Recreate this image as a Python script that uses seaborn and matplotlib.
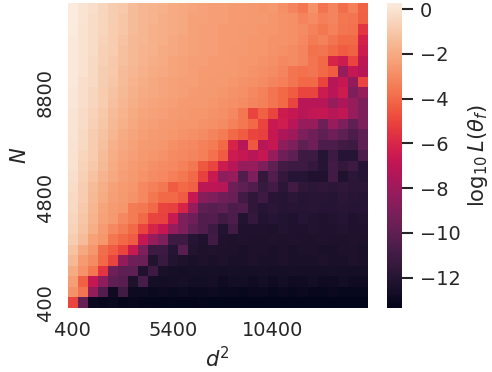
import matplotlib
matplotlib.use("Agg")
import matplotlib.pyplot as plt
import seaborn as sns
import numpy as np
import pandas as pd

# d^2 values (columns) and N values (rows, bottom to top)
d2_vals = list(range(400, 15000, 500))
n_vals = [400] + list(range(1200, 12001, 400))

# log10 L(theta_f), one list per N (N ascending)
loss = [
    [-5.0, -9.8, -13.0, -13.1, -13.0, -13.2, -13.1, -13.2, -13.2, -13.3, -13.2, -13.3, -13.3, -13.2, -13.3, -13.3, -13.3, -13.3, -13.3, -13.3, -13.3, -13.3, -13.3, -13.3, -13.3, -13.3, -13.3, -13.3, -13.3, -13.35],
    [-2.8, -3.7, -8.3, -10.5, -12.8, -11.0, -12.9, -12.9, -13.0, -12.9, -13.0, -12.9, -13.0, -13.0, -12.9, -13.0, -13.0, -13.1, -13.0, -13.0, -13.1, -13.0, -13.1, -13.0, -13.1, -13.1, -13.0, -13.1, -13.1, -13.1],
    [-2.4, -4.3, -6.8, -8.5, -10.0, -10.2, -12.3, -10.8, -12.6, -12.7, -12.6, -12.5, -12.7, -12.7, -12.6, -12.8, -12.7, -12.7, -12.8, -12.7, -12.8, -12.7, -12.8, -12.8, -12.7, -12.8, -12.8, -12.7, -12.8, -12.8],
    [-2.0, -2.8, -3.6, -5.5, -9.5, -10.0, -10.0, -12.2, -11.2, -12.4, -12.5, -12.6, -12.5, -12.6, -12.5, -12.6, -12.5, -12.6, -12.6, -12.5, -12.6, -12.6, -12.5, -12.6, -12.6, -12.6, -12.5, -12.6, -12.6, -12.6],
    [-1.5, -2.5, -3.0, -4.0, -5.0, -8.4, -9.5, -9.6, -12.1, -11.3, -12.1, -12.3, -12.4, -12.3, -12.4, -12.3, -12.4, -12.4, -12.3, -12.4, -12.4, -12.3, -12.4, -12.4, -12.4, -12.3, -12.4, -12.4, -12.3, -12.4],
    [-1.2, -2.1, -2.7, -3.9, -4.4, -5.0, -6.6, -9.0, -11.2, -11.2, -12.0, -10.2, -12.1, -12.3, -12.2, -12.3, -12.3, -12.4, -12.3, -12.3, -12.4, -12.3, -12.4, -12.3, -12.3, -12.4, -12.4, -12.3, -12.3, -12.4],
    [-0.8, -1.4, -2.3, -2.7, -3.6, -4.0, -4.4, -6.7, -8.2, -9.0, -11.2, -11.2, -12.0, -12.2, -11.0, -12.2, -12.3, -12.2, -12.3, -12.3, -12.2, -12.3, -12.2, -12.3, -12.3, -12.2, -12.3, -12.3, -12.2, -12.3],
    [-0.6, -1.2, -1.9, -2.5, -3.1, -3.5, -4.0, -5.0, -6.1, -6.7, -8.2, -9.0, -10.0, -10.5, -11.2, -12.1, -11.0, -12.2, -12.2, -12.2, -12.3, -12.1, -12.2, -12.2, -12.1, -12.2, -12.2, -12.1, -12.2, -12.2],
    [-0.5, -1.1, -1.7, -2.3, -2.6, -3.1, -3.5, -4.0, -5.0, -5.1, -6.6, -9.0, -9.5, -10.5, -10.4, -11.0, -10.6, -12.1, -11.5, -12.1, -12.0, -12.1, -12.2, -12.0, -12.1, -12.2, -12.1, -12.0, -12.2, -12.1],
    [-0.4, -1.0, -1.6, -2.2, -2.5, -2.7, -3.5, -3.6, -4.0, -5.0, -5.2, -6.1, -8.2, -10.0, -10.2, -10.0, -10.6, -10.5, -11.6, -12.0, -11.8, -12.0, -11.9, -12.0, -11.9, -12.0, -12.0, -11.9, -12.0, -12.0],
    [-0.4, -0.9, -1.5, -2.0, -2.4, -2.6, -2.8, -3.1, -3.6, -4.0, -4.0, -4.4, -6.8, -8.7, -9.0, -9.5, -9.7, -11.0, -11.6, -11.2, -11.9, -12.0, -11.8, -12.0, -11.9, -11.9, -12.0, -11.8, -11.9, -12.0],
    [-0.3, -0.8, -1.4, -1.9, -2.3, -2.5, -2.7, -3.1, -3.4, -3.6, -4.4, -4.0, -4.3, -7.0, -7.0, -7.2, -9.5, -10.0, -10.5, -11.4, -11.0, -11.8, -11.0, -11.7, -11.8, -11.6, -11.8, -11.7, -11.8, -11.8],
    [-0.2, -0.7, -1.2, -1.7, -2.1, -2.4, -2.6, -2.8, -3.0, -3.1, -3.4, -3.6, -4.0, -5.2, -6.6, -8.5, -8.2, -10.5, -9.0, -11.5, -10.5, -11.5, -12.0, -12.0, -12.2, -12.2, -11.0, -12.2, -11.8, -12.0],
    [-0.1, -0.6, -1.0, -1.5, -2.0, -2.3, -2.5, -2.7, -2.9, -3.0, -3.1, -3.3, -3.6, -4.5, -5.0, -6.5, -7.2, -8.2, -8.2, -9.0, -10.0, -11.0, -11.2, -11.2, -11.5, -12.0, -11.0, -11.5, -11.2, -12.0],
    [-0.1, -0.5, -0.9, -1.4, -1.9, -2.2, -2.4, -2.6, -2.7, -2.8, -3.0, -3.1, -3.2, -3.4, -3.8, -4.4, -6.5, -6.7, -7.2, -6.7, -8.2, -9.5, -10.0, -11.2, -11.2, -12.0, -11.2, -12.0, -12.0, -10.6],
    [-0.1, -0.4, -0.9, -1.3, -1.8, -2.1, -2.3, -2.5, -2.6, -2.7, -2.9, -3.0, -3.1, -3.3, -3.5, -4.0, -6.1, -7.2, -4.5, -7.2, -6.7, -8.5, -9.0, -10.0, -9.5, -10.6, -10.6, -11.0, -11.2, -10.0],
    [0.0, -0.4, -0.8, -1.2, -1.6, -2.0, -2.2, -2.4, -2.5, -2.6, -2.7, -2.8, -2.9, -3.0, -3.2, -3.5, -4.0, -4.4, -5.0, -5.2, -6.7, -7.5, -8.0, -9.0, -9.5, -10.0, -9.5, -10.0, -10.6, -10.0],
    [0.0, -0.3, -0.7, -1.1, -1.5, -1.8, -2.1, -2.3, -2.4, -2.5, -2.6, -2.7, -2.7, -2.8, -2.9, -3.0, -3.3, -3.6, -4.0, -5.0, -6.6, -6.4, -7.2, -8.2, -8.2, -9.5, -8.2, -9.0, -10.0, -9.0],
    [0.0, -0.3, -0.6, -1.0, -1.4, -1.7, -2.0, -2.2, -2.3, -2.4, -2.5, -2.6, -2.7, -2.7, -2.8, -2.9, -3.1, -3.6, -5.0, -4.3, -5.0, -6.5, -6.7, -7.2, -6.9, -6.7, -7.2, -6.9, -8.2, -9.0],
    [0.1, -0.2, -0.5, -0.9, -1.3, -1.6, -1.9, -2.1, -2.2, -2.3, -2.4, -2.5, -2.6, -2.6, -2.7, -2.8, -2.9, -3.0, -3.2, -3.4, -3.7, -4.0, -5.0, -7.2, -7.2, -7.2, -8.2, -7.5, -8.2, -9.0],
    [0.1, -0.2, -0.5, -0.9, -1.2, -1.5, -1.8, -2.0, -2.1, -2.2, -2.3, -2.4, -2.5, -2.6, -2.6, -2.7, -2.8, -2.9, -3.1, -3.3, -3.7, -4.0, -4.4, -5.0, -5.0, -6.5, -7.2, -6.5, -9.0, -8.2],
    [0.2, -0.2, -0.4, -0.8, -1.1, -1.4, -1.7, -1.9, -2.1, -2.2, -2.3, -2.4, -2.4, -2.5, -2.6, -2.6, -2.7, -2.8, -2.9, -3.0, -3.2, -3.4, -3.7, -4.0, -4.0, -5.0, -7.2, -6.7, -8.4, -5.0],
    [0.2, -0.1, -0.4, -0.8, -1.0, -1.4, -1.6, -1.8, -2.0, -2.1, -2.2, -2.3, -2.4, -2.5, -2.5, -2.6, -2.6, -2.7, -2.8, -2.9, -3.0, -3.2, -3.7, -3.8, -3.7, -4.0, -4.4, -8.2, -6.8, -7.2],
    [0.2, -0.1, -0.4, -0.7, -1.0, -1.3, -1.5, -1.7, -1.9, -2.0, -2.2, -2.3, -2.4, -2.4, -2.5, -2.5, -2.6, -2.7, -2.7, -2.8, -2.9, -3.1, -3.0, -3.2, -3.7, -4.0, -6.1, -6.5, -5.0, -7.0],
    [0.2, -0.1, -0.3, -0.7, -0.9, -1.3, -1.5, -1.7, -1.8, -2.0, -2.1, -2.2, -2.3, -2.4, -2.4, -2.5, -2.6, -2.6, -2.7, -2.7, -2.8, -2.9, -3.0, -3.2, -3.8, -3.7, -4.0, -4.4, -4.2, -6.5],
    [0.2, -0.1, -0.3, -0.6, -0.9, -1.2, -1.5, -1.6, -1.8, -1.9, -2.1, -2.2, -2.3, -2.4, -2.4, -2.5, -2.5, -2.6, -2.7, -2.7, -2.8, -2.8, -2.9, -3.1, -3.5, -3.3, -3.7, -4.0, -4.0, -6.2],
    [0.25, -0.1, -0.3, -0.5, -0.9, -1.1, -1.4, -1.6, -1.8, -1.9, -2.0, -2.1, -2.3, -2.4, -2.4, -2.5, -2.5, -2.6, -2.6, -2.7, -2.7, -2.8, -2.9, -3.0, -3.3, -3.6, -3.3, -3.7, -3.8, -5.5],
    [0.25, 0.0, -0.3, -0.5, -0.8, -1.1, -1.4, -1.6, -1.7, -1.9, -2.0, -2.1, -2.3, -2.3, -2.4, -2.4, -2.5, -2.5, -2.6, -2.6, -2.7, -2.8, -2.9, -3.2, -3.0, -3.4, -3.2, -3.6, -3.7, -4.3],
    [0.27, 0.0, -0.2, -0.5, -0.8, -1.0, -1.4, -1.6, -1.7, -1.8, -2.0, -2.1, -2.2, -2.3, -2.4, -2.4, -2.5, -2.5, -2.6, -2.7, -2.6, -2.9, -3.2, -3.6, -2.8, -3.7, -3.2, -3.9, -3.4, -4.2],
]

df = pd.DataFrame(loss, index=n_vals, columns=d2_vals)

sns.set_theme(font_scale=1.27)

fig = plt.figure(figsize=(4.92, 3.72), dpi=100)
ax = fig.add_axes([0.138, 0.172, 0.610, 0.820])
cax = fig.add_axes([0.787, 0.172, 0.030, 0.820])

sns.heatmap(df, ax=ax, cbar_ax=cax, xticklabels=10, yticklabels=10,
            cbar_kws={'label': r'$\log_{10}L(\theta_f)$'})
ax.invert_yaxis()
ax.set_xlabel(r'$d^2$')
ax.set_ylabel(r'$N$')
plt.setp(ax.get_xticklabels(), rotation=0)
plt.setp(ax.get_yticklabels(), rotation=90, va='center')
cax.tick_params(length=8, width=1.5, pad=5)

fig.savefig('out.png', dpi=100)
